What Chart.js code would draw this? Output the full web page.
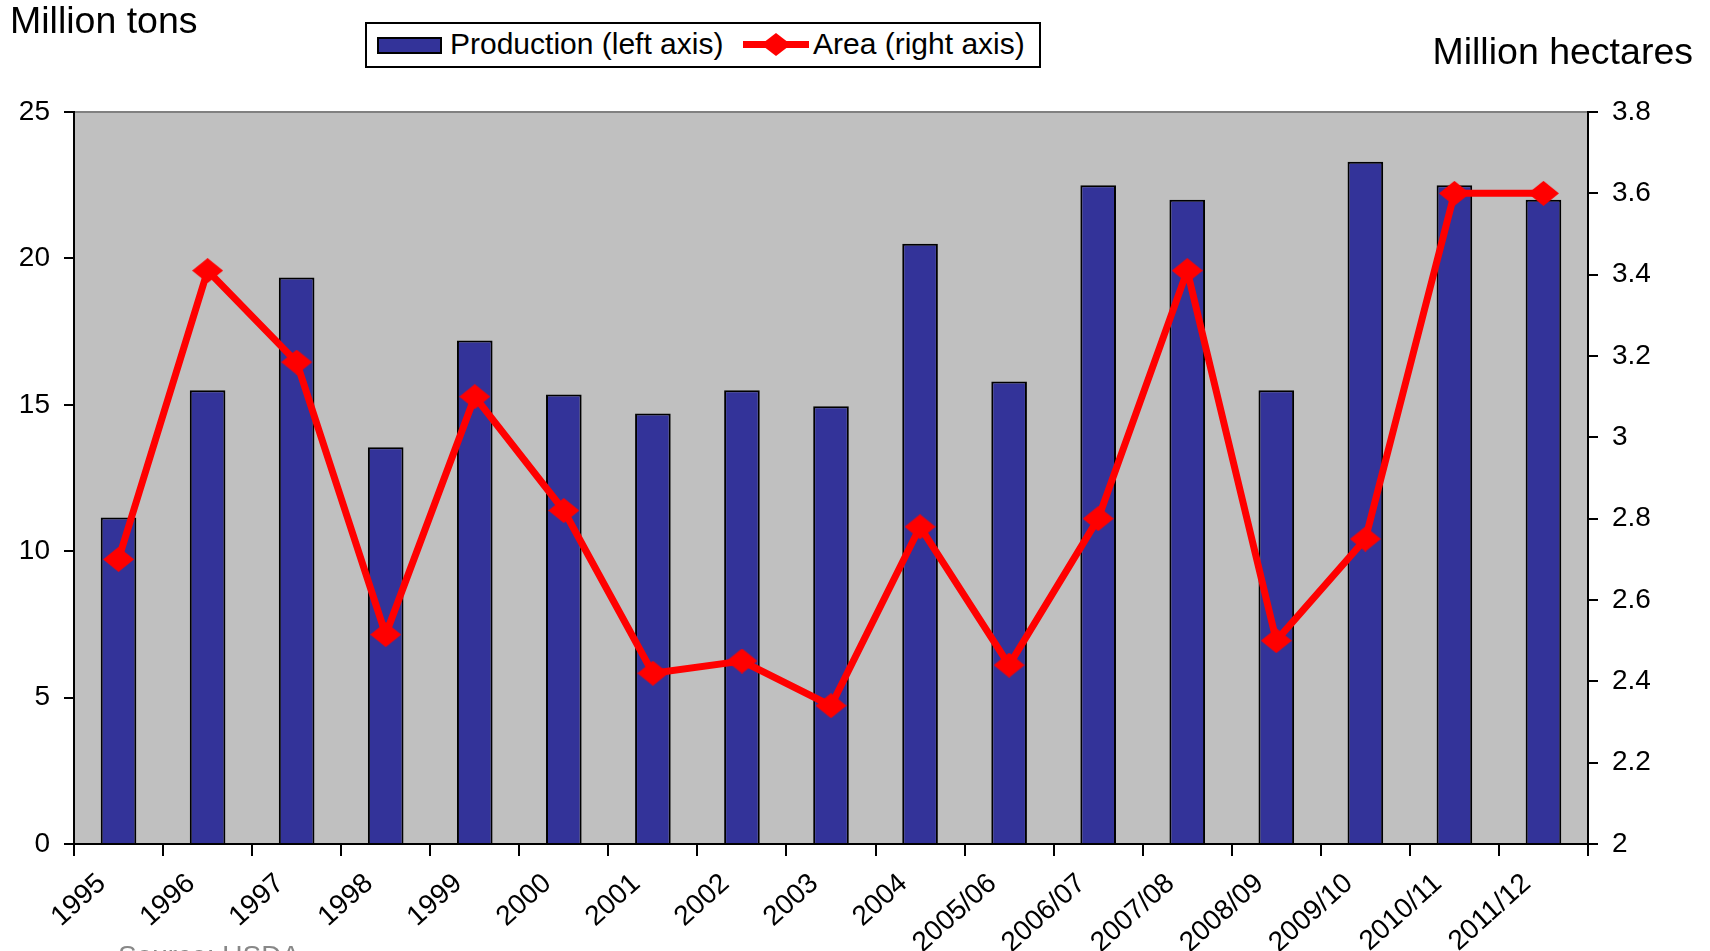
<!DOCTYPE html>
<html>
<head>
<meta charset="utf-8">
<script src="https://cdn.jsdelivr.net/npm/chart.js@4/dist/chart.umd.min.js"></script>
<style>
  html, body { margin: 0; padding: 0; background: #fff; overflow: hidden; }
  #wrap { position: relative; width: 1710px; height: 951px; font-family: "Liberation Sans", Arial, sans-serif; color: #000; }
  .lbl { position: absolute; white-space: nowrap; }
  #legend { position: absolute; left: 365px; top: 22px; width: 672px; height: 42px; border: 2px solid #000; background: #fff; }
  #legend .sw { position: absolute; left: 10px; top: 13px; width: 61px; height: 13px; background: #333399; border: 2px solid #000; }
  #legend .ln { position: absolute; left: 376px; top: 17px; width: 66px; height: 7px; background: #ff0000; }
  #legend .dm { position: absolute; left: 394px; top: 9px; width: 30px; height: 23px; background: #ff0000; clip-path: polygon(50% 0, 100% 50%, 50% 100%, 0 50%); }
  #legend .t { position: absolute; top: 3px; font-size: 30px; }
</style>
</head>
<body>
<div id="wrap">
  <canvas id="myChart" width="1710" height="951"></canvas>
  <div class="lbl" style="left:10px; top:-1px; font-size:37.5px;">Million tons</div>
  <div class="lbl" style="right:17px; top:30px; font-size:37.5px;">Million hectares</div>
  <div id="legend">
    <div class="sw"></div>
    <div class="t" style="left:83px;">Production (left axis)</div>
    <div class="ln"></div>
    <div class="dm"></div>
    <div class="t" style="left:446px;">Area (right axis)</div>
  </div>
  <div class="lbl" style="left:118px; top:940px; font-size:28px; color:#888;">Source: USDA</div>
</div>
<script>
// chart data
const years = ['1995', '1996', '1997', '1998', '1999', '2000', '2001', '2002', '2003', '2004',
  '2005/06', '2006/07', '2007/08', '2008/09', '2009/10', '2010/11', '2011/12'];
const production = [11.15, 15.5, 19.35, 13.55, 17.2, 15.35, 14.7, 15.5, 14.95, 20.5,
  15.8, 22.5, 22.0, 15.5, 23.3, 22.5, 22.0];
const area = [2.70, 3.41, 3.185, 2.515, 3.10, 2.82, 2.42, 2.45, 2.34, 2.78,
  2.44, 2.80, 3.41, 2.50, 2.75, 3.60, 3.60];
const leftTicks = [0, 5, 10, 15, 20, 25];
const rightTicks = [2, 2.2, 2.4, 2.6, 2.8, 3, 3.2, 3.4, 3.6, 3.8];

// diamond marker, a bit wider than tall like the original
const diamond = document.createElement('canvas');
diamond.width = 31;
diamond.height = 25;
const dctx = diamond.getContext('2d');
dctx.fillStyle = '#ff0000';
dctx.beginPath();
dctx.moveTo(15.5, 0);
dctx.lineTo(31, 12.5);
dctx.lineTo(15.5, 25);
dctx.lineTo(0, 12.5);
dctx.closePath();
dctx.fill();

// grey plot background with a darker top edge
const plotBg = {
  id: 'plotBg',
  beforeDraw(chart) {
    const { ctx, chartArea: a } = chart;
    ctx.save();
    ctx.fillStyle = '#c0c0c0';
    ctx.fillRect(a.left, a.top, a.right - a.left, a.bottom - a.top);
    ctx.strokeStyle = '#808080';
    ctx.lineWidth = 2;
    ctx.beginPath();
    ctx.moveTo(a.left, a.top);
    ctx.lineTo(a.right, a.top);
    ctx.stroke();
    ctx.restore();
  }
};

const tickFont = { family: '"Liberation Sans", Arial, sans-serif', size: 28 };

const ctx = document.getElementById('myChart').getContext('2d');
const myChart = new Chart(ctx, {
  type: 'bar',
  data: {
    labels: years,
    datasets: [{
      type: 'line',
      label: 'Area (right axis)',
      data: area,
      yAxisID: 'y1',
      borderColor: '#ff0000',
      borderWidth: 7,
      pointStyle: diamond,
      pointRadius: 12,
      tension: 0,
      order: 0
    }, {
      label: 'Production (left axis)',
      data: production,
      yAxisID: 'y',
      backgroundColor: '#333399',
      borderColor: '#000000',
      borderWidth: 2,
      barPercentage: 0.4,
      categoryPercentage: 1,
      order: 1
    }]
  },
  options: {
    responsive: false,
    animation: false,
    devicePixelRatio: 1,
    layout: { padding: { top: 112, left: 0, right: 0, bottom: 0 } },
    plugins: { legend: { display: false }, tooltip: { enabled: false } },
    scales: {
      x: { display: false, offset: true },
      // labels sit on the category boundaries, as in the original
      x2: {
        type: 'linear',
        position: 'bottom',
        offset: false,
        min: 0,
        max: years.length,
        afterBuildTicks: (s) => { s.ticks = years.map((_, i) => ({ value: i })).concat([{ value: years.length }]); },
        afterFit: (s) => { s.height = 107; },
        ticks: {
          autoSkip: false,
          minRotation: 42,
          maxRotation: 42,
          padding: 11,
          labelOffset: 28,
          color: '#000',
          font: tickFont,
          callback: (v) => years[v] || ''
        },
        grid: { offset: false, drawOnChartArea: false, color: '#000', tickLength: 12, lineWidth: 2 },
        border: { color: '#000', width: 2 }
      },
      y: {
        position: 'left',
        min: 0,
        max: 25,
        afterBuildTicks: (s) => { s.ticks = leftTicks.map(v => ({ value: v })); },
        afterFit: (s) => { s.width = 74; },
        ticks: { color: '#000', font: tickFont, padding: 14 },
        grid: { drawOnChartArea: false, color: '#000', tickLength: 10, lineWidth: 2 },
        border: { color: '#000', width: 2 }
      },
      y1: {
        position: 'right',
        min: 2,
        max: 3.8,
        afterBuildTicks: (s) => { s.ticks = rightTicks.map(v => ({ value: v })); },
        afterFit: (s) => { s.width = 122; },
        ticks: { color: '#000', font: tickFont, padding: 14, callback: (v) => String(v) },
        grid: { drawOnChartArea: false, color: '#000', tickLength: 10, lineWidth: 2 },
        border: { color: '#000', width: 2 }
      }
    }
  },
  plugins: [plotBg]
});
</script>
</body>
</html>
